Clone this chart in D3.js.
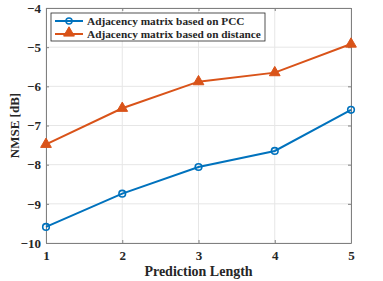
<!DOCTYPE html>
<html lang="en">
<head>
  <meta charset="UTF-8">
  <title>NMSE vs Prediction Length</title>
  <script src="https://d3js.org/d3.v7.min.js"></script>
  <style>
    body { margin: 0; background: #fff; }
    svg text { font-family: "Liberation Serif", "Times New Roman", serif; font-weight: bold; fill: #262626; }
  </style>
</head>
<body>
  <svg width="383" height="281"></svg>
  <script>
    // Data
    const predLength = [1, 2, 3, 4, 5];
    const pccValues = [-9.59, -8.74, -8.06, -7.65, -6.6];
    const distValues = [-7.48, -6.56, -5.88, -5.65, -4.92];
    const yTicks = [-10, -9, -8, -7, -6, -5, -4];
    const seriesNames = ["Adjacency matrix based on PCC", "Adjacency matrix based on distance"];

    const margin = { top: 8, right: 32, bottom: 38, left: 46 };
    const width = 383 - margin.left - margin.right;
    const height = 281 - margin.top - margin.bottom;

    const svg = d3.select("svg")
      .append("g")
      .attr("transform", `translate(${margin.left}, ${margin.top})`);

    const x = d3.scaleLinear().domain([1, 5]).range([0, width]);
    const y = d3.scaleLinear().domain([-10, -4]).range([height, 0]);

    // Grid
    svg.append("g").selectAll("line").data(predLength).enter().append("line")
      .attr("x1", d => x(d)).attr("x2", d => x(d))
      .attr("y1", 0).attr("y2", height)
      .attr("stroke", "#e6e6e6").attr("stroke-width", 1);
    svg.append("g").selectAll("line").data(yTicks).enter().append("line")
      .attr("x1", 0).attr("x2", width)
      .attr("y1", d => y(d)).attr("y2", d => y(d))
      .attr("stroke", "#e6e6e6").attr("stroke-width", 1);

    // Axes (ticks inside, box)
    svg.append("g")
      .attr("transform", `translate(0, ${height})`)
      .call(d3.axisBottom(x).tickValues(predLength).tickFormat(d3.format("d")).tickSizeInner(-3).tickSizeOuter(0).tickPadding(8));
    svg.append("g")
      .call(d3.axisLeft(y).tickValues(yTicks).tickFormat(d3.format("d")).tickSizeInner(-3).tickSizeOuter(0).tickPadding(5));
    svg.append("g")
      .call(d3.axisTop(x).tickValues(predLength).tickFormat("").tickSizeInner(-3).tickSizeOuter(0));
    svg.append("g")
      .attr("transform", `translate(${width}, 0)`)
      .call(d3.axisRight(y).tickValues(yTicks).tickFormat("").tickSizeInner(-3).tickSizeOuter(0));
    svg.selectAll(".domain, .tick line").attr("stroke", "#808080");
    svg.selectAll(".tick text").style("font-size", "13px").attr("fill", "#262626");

    // Lines
    const line = d3.line().x((d, i) => x(predLength[i])).y(d => y(d));
    svg.append("path").datum(pccValues).attr("d", line)
      .attr("fill", "none").attr("stroke", "#0072BD").attr("stroke-width", 2);
    svg.append("path").datum(distValues).attr("d", line)
      .attr("fill", "none").attr("stroke", "#D95319").attr("stroke-width", 2);

    // Markers
    svg.selectAll(".pcc").data(pccValues).enter().append("circle")
      .attr("cx", (d, i) => x(predLength[i])).attr("cy", d => y(d)).attr("r", 3.3)
      .attr("fill", "none").attr("stroke", "#0072BD").attr("stroke-width", 1.6);
    const tri = d3.symbol().type(d3.symbolTriangle).size(50);
    svg.selectAll(".dist").data(distValues).enter().append("path")
      .attr("d", tri)
      .attr("transform", (d, i) => `translate(${x(predLength[i])}, ${y(d)})`)
      .attr("fill", "#D95319").attr("stroke", "#D95319");

    // Legend
    const legend = svg.append("g").attr("transform", "translate(5, 5)");
    legend.append("rect").attr("width", 214).attr("height", 28)
      .attr("fill", "#fff").attr("stroke", "#262626").attr("stroke-width", 0.8);
    seriesNames.forEach((name, i) => {
      const g = legend.append("g").attr("transform", `translate(0, ${8 + i * 13})`);
      const c = i === 0 ? "#0072BD" : "#D95319";
      g.append("line").attr("x1", 4).attr("x2", 32).attr("y1", 0).attr("y2", 0)
        .attr("stroke", c).attr("stroke-width", 2);
      if (i === 0) {
        g.append("circle").attr("cx", 18).attr("cy", 0).attr("r", 3)
          .attr("fill", "none").attr("stroke", c).attr("stroke-width", 1.5);
      } else {
        g.append("path").attr("d", tri).attr("transform", "translate(18, -1)")
          .attr("fill", c).attr("stroke", c);
      }
      g.append("text").attr("x", 36).attr("y", 4).style("font-size", "11.3px").text(name);
    });

    // Axis labels
    svg.append("text")
      .attr("x", width / 2).attr("y", height + 33)
      .attr("text-anchor", "middle").style("font-size", "14px")
      .text("Prediction Length");
    svg.append("text")
      .attr("transform", `translate(-27, ${height / 2}) rotate(-90)`)
      .attr("text-anchor", "middle").style("font-size", "13px")
      .text("NMSE [dB]");
  </script>
</body>
</html>
